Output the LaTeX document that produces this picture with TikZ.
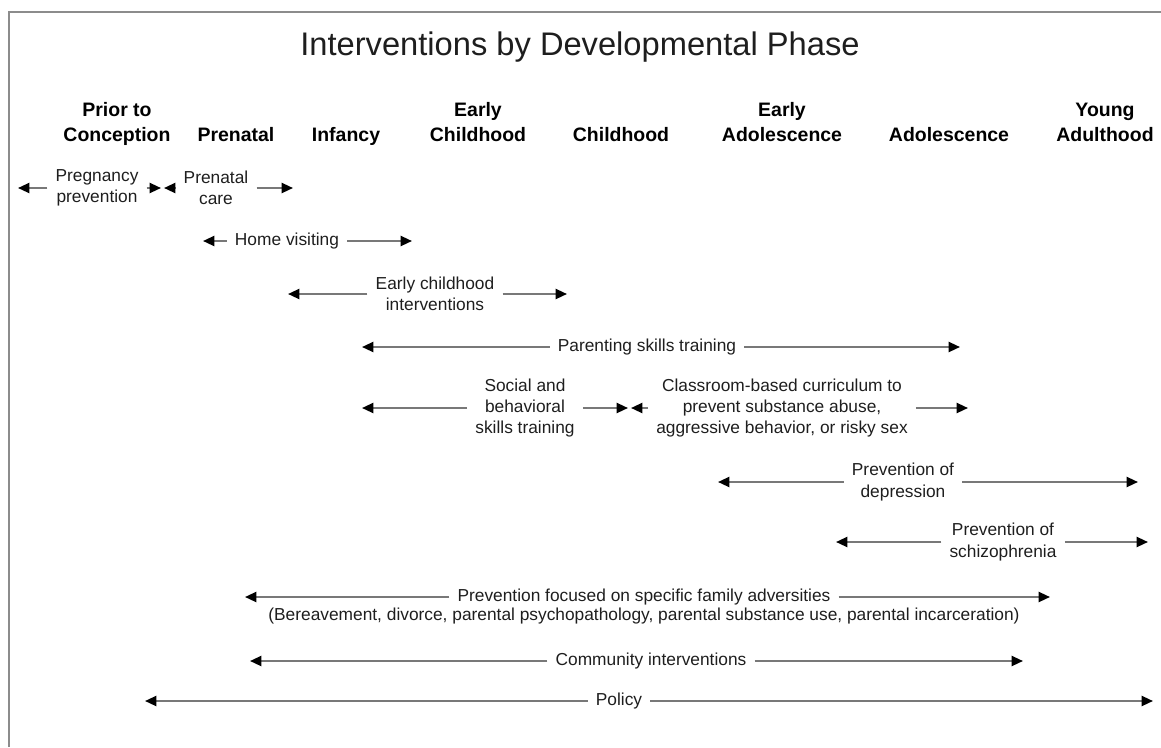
\documentclass[tikz,border=0pt]{standalone}
\usepackage{fontspec}
\setmainfont{Liberation Sans}
\usetikzlibrary{arrows.meta,positioning}
\definecolor{framegray}{RGB}{140,140,140}
\definecolor{linegray}{RGB}{120,120,120}
\definecolor{inkgray}{RGB}{30,30,30}
\newcommand{\phfont}{\fontsize{14.6}{18.5}\selectfont\bfseries}
\newcommand{\ivfont}{\fontsize{13}{16}\selectfont}
\tikzset{
      phase/.style    = {font=\phfont, text=black, align=center, inner sep=0pt, anchor=base},
      interv/.style   = {font=\ivfont, text=inkgray, align=center, inner xsep=6pt, inner ysep=0pt},
      spanedge/.style = {draw=linegray, line width=1.6pt, -{Triangle[length=8.5pt,width=7.5pt,color=black]}},
    }

\begin{document}
\begin{tikzpicture}[x=0.75pt,y=-0.75pt]
        \useasboundingbox (0,0) rectangle (1161,747);
        \draw[framegray, line width=2.2pt] (9,747) -- (9,12) -- (1161,12);
        \node[font=\fontsize{24.5}{29}\selectfont, text=inkgray] (title) at (580,47) {Interventions by Developmental Phase};

        % phases
        \node[phase] (conc) at (117,141) {Prior to\\Conception};
        \node[phase] (pren) at (236,141) {Prenatal};
        \node[phase] (inf) at (346,141) {Infancy};
        \node[phase] (echild) at (478,141) {Early\\Childhood};
        \node[phase] (child) at (621,141) {Childhood};
        \node[phase] (eadol) at (782,141) {Early\\Adolescence};
        \node[phase] (adol) at (949,141) {Adolescence};
        \node[phase] (yadult) at (1105,141) {Young\\Adulthood};

        % interventions
        \node[interv] (preg) at (97,188) {Pregnancy\\prevention};
        \node[interv] (pcare) at (216,188) {Prenatal\\care};
        \node[interv] (homev) at (287,241) {Home visiting};
        \node[interv] (echi) at (435,294) {Early childhood\\interventions};
        \node[interv] (parent) at (647,347) {Parenting skills training};
        \node[interv] (social) at (525,408) {Social and\\behavioral\\skills training};
        \node[interv] (class) at (782,408) {Classroom-based curriculum to\\prevent substance abuse,\\aggressive behavior, or risky sex};
        \node[interv] (depr) at (903,482) {Prevention of\\depression};
        \node[interv] (schiz) at (1003,542) {Prevention of\\schizophrenia};
        \node[interv] (fam) at (644,597) {Prevention focused on specific family adversities};
        \node[interv, below=1.5pt of fam] (famsub) {(Bereavement, divorce, parental psychopathology, parental substance use, parental incarceration)};
        \node[interv] (comm) at (651,661) {Community interventions};
        \node[interv] (policy) at (619,701) {Policy};

        % span ends
        \coordinate (pregL) at (18,188);    \coordinate (pregR) at (161,188);
        \coordinate (pcareL) at (164,188);  \coordinate (pcareR) at (293,188);
        \coordinate (homevL) at (203,241);  \coordinate (homevR) at (412,241);
        \coordinate (echiL) at (288,294);   \coordinate (echiR) at (567,294);
        \coordinate (parentL) at (362,347); \coordinate (parentR) at (960,347);
        \coordinate (socialL) at (362,408); \coordinate (socialR) at (628,408);
        \coordinate (classL) at (631,408);  \coordinate (classR) at (968,408);
        \coordinate (deprL) at (718,482);   \coordinate (deprR) at (1138,482);
        \coordinate (schizL) at (836,542);  \coordinate (schizR) at (1148,542);
        \coordinate (famL) at (245,597);    \coordinate (famR) at (1050,597);
        \coordinate (commL) at (250,661);   \coordinate (commR) at (1023,661);
        \coordinate (policyL) at (145,701); \coordinate (policyR) at (1153,701);

        \path (preg) edge[spanedge] (pregL);
        \path (preg) edge[spanedge] (pregR);
        \path (pcare) edge[spanedge] (pcareL);
        \path (pcare) edge[spanedge] (pcareR);
        \path (homev) edge[spanedge] (homevL);
        \path (homev) edge[spanedge] (homevR);
        \path (echi) edge[spanedge] (echiL);
        \path (echi) edge[spanedge] (echiR);
        \path (parent) edge[spanedge] (parentL);
        \path (parent) edge[spanedge] (parentR);
        \path (social) edge[spanedge] (socialL);
        \path (social) edge[spanedge] (socialR);
        \path (class) edge[spanedge] (classL);
        \path (class) edge[spanedge] (classR);
        \path (depr) edge[spanedge] (deprL);
        \path (depr) edge[spanedge] (deprR);
        \path (schiz) edge[spanedge] (schizL);
        \path (schiz) edge[spanedge] (schizR);
        \path (fam) edge[spanedge] (famL);
        \path (fam) edge[spanedge] (famR);
        \path (comm) edge[spanedge] (commL);
        \path (comm) edge[spanedge] (commR);
        \path (policy) edge[spanedge] (policyL);
        \path (policy) edge[spanedge] (policyR);
\end{tikzpicture}
\end{document}
